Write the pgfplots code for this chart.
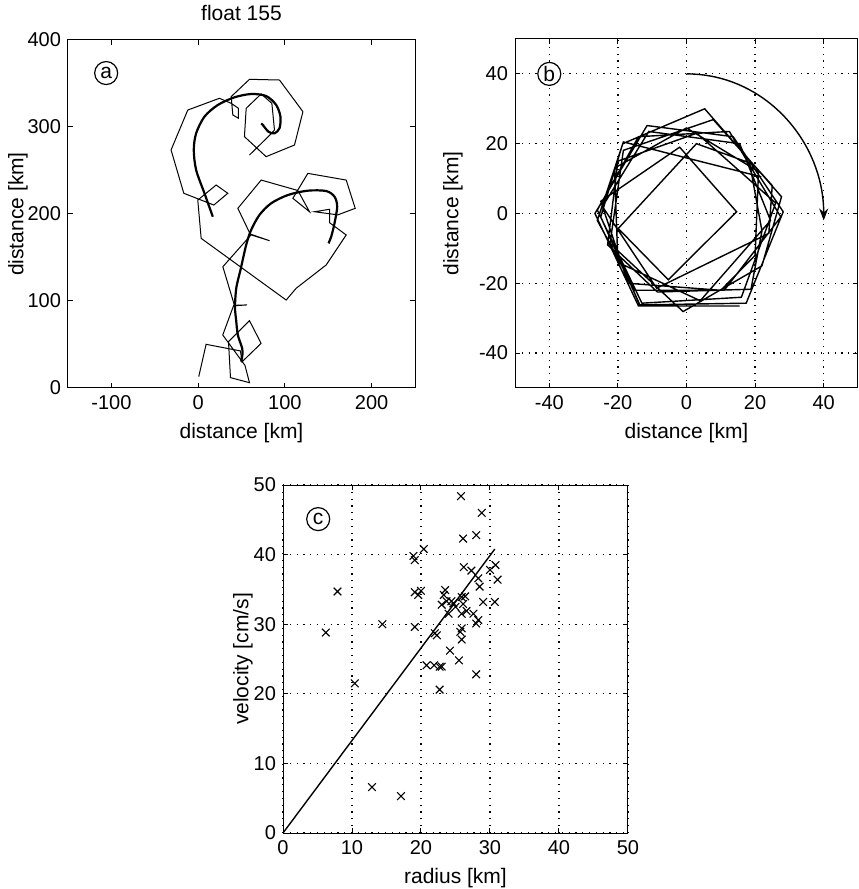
\documentclass[border=0pt]{standalone}
\usepackage{fontspec}
\setmainfont{Liberation Sans}
\usepackage{pgfplots}
\pgfplotsset{compat=1.18}
\usetikzlibrary{arrows.meta}
\tikzset{circlab/.style={draw, circle, line width=0.6pt, inner sep=0.5pt, minimum size=11.5pt, font=\fontsize{10.5}{12}\selectfont}}
\begin{document}
\begin{tikzpicture}
\useasboundingbox (0,0) rectangle (429pt,444.5pt);
\pgfplotsset{
  myaxis/.style={
    scale only axis, anchor=south west,
    axis line style={line width=0.5pt},
    tick align=inside, major tick length=2.5pt,
    tick style={black, line width=0.5pt},
    /pgf/number format/assume math mode=true,
    tick label style={font=\fontsize{10}{12}\selectfont},
    label style={font=\fontsize{10.5}{12}\selectfont},
    clip=true,
  },
  mygrid/.style={grid=major, major grid style={black, line width=0.6pt, dash pattern=on 0.6pt off 2.8pt}},
}
% ---------------- panel a
\begin{axis}[myaxis, at={(34pt,250.5pt)}, width=173.5pt, height=174pt,
  xmin=-150, xmax=250, ymin=0, ymax=400,
  xtick={-100,0,100,200}, ytick={0,100,200,300,400},
  xlabel={distance [km]}, ylabel={distance [km]},
  ylabel style={at={(axis description cs:-0.144,0.5)}, anchor=center},
]
\addplot[black, no markers, line width=0.5pt] coordinates {
(0.7,13.0) (9.2,50.2) (48.8,42.6) (50.5,30) (72.6,51.3) (59.2,77.4) (35,53.3)
(37.3,11.9) (59.2,6.1) (54,26) (28.4,60.9) (41,95) (56.4,95.5) (42,94.5)
(28.5,139.4) (61,176) (82.3,169.3) (60,177) (45.8,206.5) (72.7,239) (115,227)
(128.4,202.6) (109.2,218) (126.5,246.7) (170.7,239) (181.1,206.5) (161,199)
(134.2,202.6) (151.5,205.4) (151.5,190) (170.7,175.9) (147.6,141.4) (113,114.6)
(101.5,101.1) (3.5,172) (-0.4,216) (20.8,233.3) (34.2,223.8) (18.1,210.3)
(-16.5,223.8) (-31.2,273.6) (-11.9,319.5) (24.6,333) (38.1,327.2) (46.5,321.5)
(46.5,310) (40,313.8) (38.1,334.9) (59.2,354.8) (93.8,354) (120.8,317.6)
(111.1,279.3) (78.4,265.9) (53.4,288.9) (55.4,321.5) (72.7,338) (85,327.2)
(88,296.6) (84,292) (59.2,267.8)
};
\addplot[black, no markers, line width=1.1pt, smooth] coordinates {
(49.6,30.3) (51,38) (50.8,45.6) (45.8,60.9) (43.8,78.2) (42.5,93) (44,115)
(48.8,135.6) (55.4,164.4) (61.1,181.6) (70.7,198.9) (84.2,212.3) (103.5,221.8)
(126.5,226.8) (147.6,226.4) (157.2,219.9) (160.3,208.4) (157.2,189.3)
(153.4,173.9) (150.3,166.3)
};
\addplot[black, no markers, line width=1.1pt, smooth] coordinates {
(16.9,196.9) (7.3,223.8) (-2.3,250.6) (-5,273.6) (-2.3,292.7) (7.3,311.9)
(22.7,325.3) (41.9,334.1) (61.1,337.9) (78.4,335.6) (90,325.3) (94.9,311.9)
(93.8,298.5) (88,292.7) (81.1,294.6) (74.6,302.3) (72.7,304)
};
\node[circlab] at (axis cs:-106,362) {a};
\end{axis}
\node[font=\fontsize{10.5}{12}\selectfont] at (120.75pt,438pt) {float 155};
% ---------------- panel b
\begin{axis}[myaxis, mygrid, at={(257.5pt,250.5pt)}, width=171.5pt, height=174.5pt,
  xmin=-50, xmax=50, ymin=-50, ymax=50,
  xtick={-40,-20,...,40}, ytick={-40,-20,...,40},
  xlabel={distance [km]}, ylabel={distance [km]},
  ylabel style={at={(axis description cs:-0.181,0.5)}, anchor=center},
]
\addplot[black, no markers, line width=0.7pt] coordinates {
(15.5,-26.5) (-14,-26.5) (-26.7,0) (-11.5,25.2) (13.6,22) (28.2,0.5)
(17.4,-25.7) (-13.6,-26.2) (-25,-1) (-18.6,20) (5.3,30) (27.7,4.8)
(22,-15) (-1,-28.1) (-22.3,-8.6) (-18.4,18.1) (7.8,26.9) (25,8)
(24,-5.7) (-8.7,-21.4) (-24.5,2) (-11,23.5) (15.5,20) (24.5,-2)
(4,-25) (-20,-14) (-21,13) (0,24.5) (21,12) (20,-12)
(10,-22) (-17,-20) (-25,3.5) (-2,19) (14.6,0.5) (-5.3,-19)
(-19.9,-4.3) (2.9,20) (18.4,14.5) (22,-5) (18.8,-21.7) (-8.5,-22.5)
(-23,-9) (-20,15) (3,23) (26,3) (16,-24) (-13,-25.7)
(-26,1) (-14,22) (12.5,23.5) (27.5,-1) (11,-22) (-15,-22)
(-26,-2) (-18.4,20.5) (21.8,10.5)
};
\draw[line width=0.7pt, -{Stealth[length=6pt, width=4.5pt]}] (axis cs:0,40) to[out=0, in=90] (axis cs:40,-2);
\node[circlab, fill=white] at (axis cs:-40,40) {b};
\end{axis}
% ---------------- panel c
\begin{axis}[myaxis, mygrid, at={(141.5pt,28pt)}, width=172.5pt, height=174pt,
  xmin=0, xmax=50, ymin=0, ymax=50,
  xtick={0,10,...,50}, ytick={0,10,...,50},
  xlabel={radius [km]}, ylabel={velocity [cm/s]},
  ylabel style={at={(axis description cs:-0.116,0.5)}, anchor=center},
]
\addplot[black, only marks, mark=x, mark size=2.7pt, mark options={line width=0.55pt}] coordinates {
(25.8,48.4) (28.8,46.0) (26.1,42.3) (28.0,42.8) (20.4,40.8) (18.9,39.8)
(19.1,39.2) (26.2,38.2) (27.3,37.7) (28.3,36.6) (28.5,35.4) (30.8,38.5)
(31.1,36.4) (29.0,33.2) (30.7,33.2) (28.3,30.6) (28.0,30.1) (7.9,34.7)
(6.2,28.8) (14.4,30.0) (19.1,29.6) (19.1,34.6) (19.6,34.2) (20.0,34.8)
(23.5,34.9) (23.3,34.2) (23.7,33.3) (24.4,33.3) (24.7,33.0) (25.9,33.9)
(26.1,32.9) (26.6,31.9) (24.0,31.5) (25.9,31.5) (27.6,31.5) (25.9,29.4)
(25.7,28.9) (25.9,27.8) (22.0,28.7) (22.3,28.4) (24.2,26.2) (10.4,21.5)
(12.9,6.6) (17.1,5.3) (20.8,24.1) (21.9,24.1) (22.7,23.9) (23.0,23.9)
(22.7,20.6) (25.5,24.8) (28.0,22.8) (30.0,37.8) (26.4,34.0) (25.0,32.5)
(23.0,32.8)
};
\addplot[black, no markers, line width=0.7pt] coordinates {(0,0) (30.7,40.8)};
\node[circlab] at (axis cs:5.1,45.1) {c};
\end{axis}
\end{tikzpicture}
\end{document}
